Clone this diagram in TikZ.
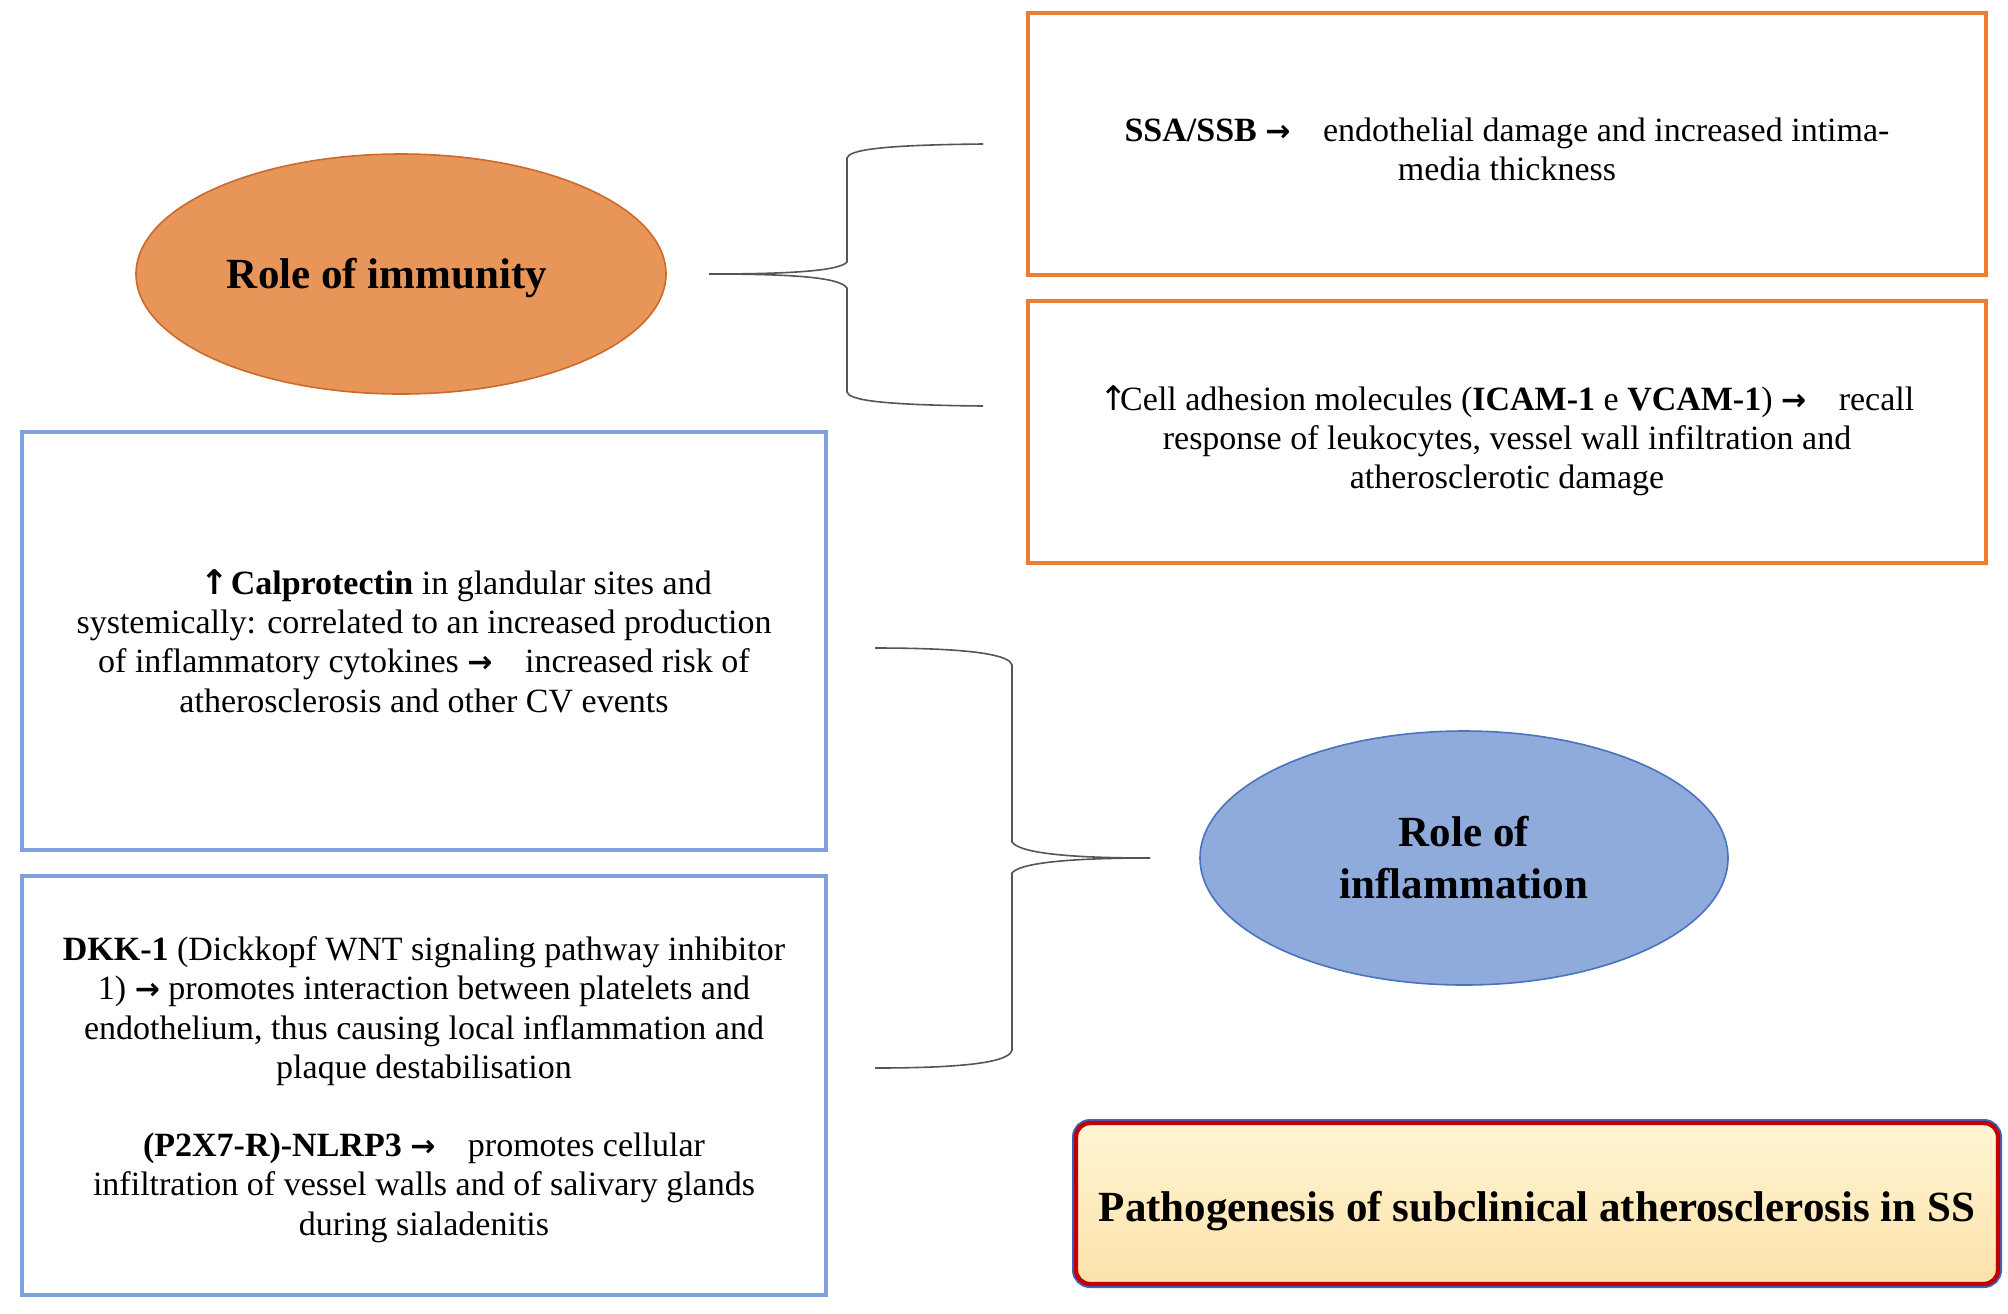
\documentclass[tikz,border=0pt]{standalone}
\usepackage{fontspec}
\setmainfont{Liberation Serif}
\newfontfamily\symfont{DejaVu Sans}
\usetikzlibrary{shapes.geometric}
\definecolor{orgbox}{HTML}{ED7D31}
\definecolor{orgfill}{HTML}{E8955A}
\definecolor{orgline}{HTML}{CC6A2A}
\definecolor{bluebox}{HTML}{7FA0DC}
\definecolor{bluefill}{HTML}{8FABDC}
\definecolor{blueline}{HTML}{4A72BE}
\definecolor{bracegray}{HTML}{555555}
\definecolor{titletop}{RGB}{255,245,212}
\definecolor{titlebot}{RGB}{252,226,170}
\definecolor{titlered}{HTML}{C00000}
\definecolor{titleblue}{HTML}{3E62C0}
\newcommand{\arr}{{\symfont\bfseries\fontsize{15}{15}\selectfont →}}
\newcommand{\uparr}{{\symfont\bfseries\fontsize{17}{17}\selectfont ↑}}
\newcommand{\thinup}{{\symfont\fontsize{17}{17}\selectfont ↑}}
\begin{document}
\begin{tikzpicture}[x=0.5pt,y=-0.5pt,
  bodytext/.style={font={\fontsize{17}{19.6}\selectfont}, align=center, inner sep=0pt},
  obox/.style={draw=orgbox, line width=2pt, minimum width=479pt, minimum height=131pt, inner sep=0pt},
  bbox/.style={bodytext, draw=bluebox, line width=2pt, minimum width=402pt, minimum height=209pt},
  headtext/.style={font={\fontsize{21.5}{26}\selectfont\bfseries}, align=center, inner sep=0pt},
  oell/.style={headtext, ellipse, fill=orgfill, draw=orgline, line width=0.8pt, minimum width=265pt, minimum height=120pt},
  bell/.style={headtext, ellipse, fill=bluefill, draw=blueline, line width=0.8pt, minimum width=264pt, minimum height=127pt},
  titlebox/.style={headtext, rounded corners=7pt, top color=titletop, bottom color=titlebot,
     draw=titlered, line width=2.2pt, preaction={draw=titleblue, line width=4pt},
     minimum width=461pt, minimum height=80.5pt},
  brace/.style={draw=bracegray, line width=0.8pt}
]
\useasboundingbox (0,0) rectangle (2008,1313);

% nodes
\node[oell, text height=16pt, text depth=2pt] (imm) at (401,274) {Role of immunity\kern14pt};
\node[bell] (infl) at (1464,858) {Role of\\inflammation};

\node[obox] (ssa) at (1507,144) {};
\node[bodytext] (ssatext) at ([yshift=-2.5pt]ssa.center) {\textbf{SSA/SSB} \arr\hspace{12pt} endothelial damage and increased intima-\\media thickness};
\node[obox] (icam) at (1507,432) {};
\node[bodytext] (icamtext) at ([yshift=-4.5pt]icam.center) {\thinup\kern-4pt Cell adhesion molecules (\textbf{ICAM-1} e \textbf{VCAM-1}) \arr\hspace{12pt} recall\\response of leukocytes, vessel wall infiltration and\\atherosclerotic damage};

\node[bbox] (calp) at (424,641) {\hspace*{32pt}\uparr\kern1pt\textbf{Calprotectin} in glandular sites and\\systemically: correlated to an increased production\\of inflammatory cytokines \arr\hspace{12pt} increased risk of\\atherosclerosis and other CV events};
\node[bbox, minimum height=209.5pt] (dkk) at (424,1085.5) {};
\node[bodytext] (dkktext) at ([yshift=-2pt]dkk.center) {\textbf{DKK-1} (Dickkopf WNT signaling pathway inhibitor\\1) \arr{} promotes interaction between platelets and\\endothelium, thus causing local inflammation and\\plaque destabilisation\\[19.6pt]\textbf{(P2X7-R)-NLRP3} \arr\hspace{12pt} promotes cellular\\infiltration of vessel walls and of salivary glands\\during sialadenitis};

\node[titlebox, text height=18pt, text depth=0.2pt] (title) at (1537,1203.5) {Pathogenesis of subclinical atherosclerosis in SS};

% brace 1 (immunity)
\coordinate (b1t) at (709,274);
\coordinate (b1a) at (983,144);
\coordinate (b1b) at (983,406);
\draw[brace] (b1t) .. controls (800,274) and (840,270) .. (847,262) -- (847,158)
   .. controls (849,150) and (880,145) .. (b1a);
\draw[brace] (b1t) .. controls (800,274) and (840,278) .. (847,288) -- (847,392)
   .. controls (849,400) and (880,405) .. (b1b);

% brace 2 (inflammation)
\coordinate (b2t) at (1150,858);
\coordinate (b2a) at (875,648);
\coordinate (b2b) at (875,1068);
\draw[brace] (b2t) .. controls (1060,858) and (1019,852) .. (1012,842) -- (1012,665)
   .. controls (1010,656) and (980,648) .. (b2a);
\draw[brace] (b2t) .. controls (1060,858) and (1019,864) .. (1012,873) -- (1012,1050)
   .. controls (1010,1060) and (980,1068) .. (b2b);
\end{tikzpicture}
\end{document}
